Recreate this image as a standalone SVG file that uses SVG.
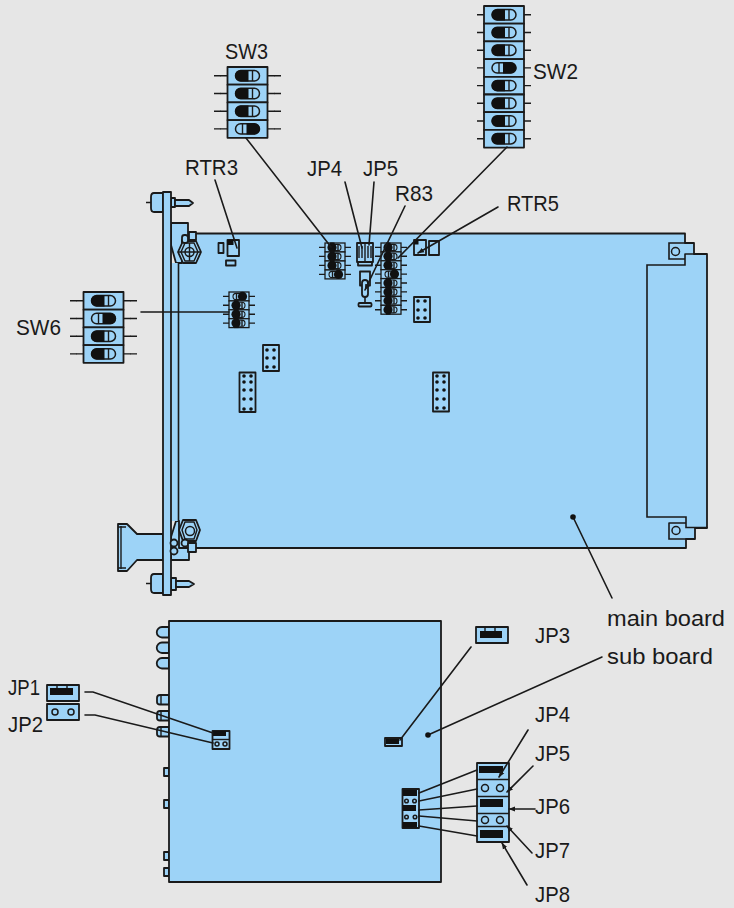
<svg xmlns="http://www.w3.org/2000/svg" width="734" height="908" viewBox="0 0 734 908">
<style>
.b{fill:#9dd3f7;stroke:#1a1a1a;stroke-width:1.8;stroke-linejoin:round}
.bt{fill:#9dd3f7;stroke:#1a1a1a;stroke-width:1.3}
.n{fill:none;stroke:#1a1a1a;stroke-width:1.6;stroke-linecap:round}
.t{fill:none;stroke:#1a1a1a;stroke-width:1.4}
.k{fill:#111;stroke:none}
.h{fill:#111}
.o{fill:none;stroke:#1a1a1a;stroke-width:1.5}
text{font-family:"Liberation Sans",Arial,sans-serif;font-size:22px;fill:#1a1a1a}
</style>
<defs>
<marker id="a" markerWidth="7" markerHeight="6" refX="6" refY="3" orient="auto" markerUnits="userSpaceOnUse"><path d="M0 0.500L6.500 3L0 5.500Z" fill="#1a1a1a"/></marker>
<g id="cL"><rect class="b" x="0" y="0" width="40" height="17.7"/><path class="t" d="M-7 8.800H0M40 8.800H47"/><rect x="8" y="3.600" width="24" height="10.400" rx="5.200" fill="#9dd3f7" stroke="#1a1a1a" stroke-width="1.500"/><path class="k" d="M13.200 3.200H21V14.400H13.200A5.600 5.600 0 0 1 13.200 3.200Z"/><path class="t" d="M25 3.600V14"/></g>
<g id="cR"><rect class="b" x="0" y="0" width="40" height="17.7"/><path class="t" d="M-7 8.800H0M40 8.800H47"/><rect x="8" y="3.600" width="24" height="10.400" rx="5.200" fill="#9dd3f7" stroke="#1a1a1a" stroke-width="1.500"/><path class="k" d="M19 3.200H26.800A5.600 5.600 0 0 1 26.800 14.400H19Z"/><path class="t" d="M15 3.600V14"/></g>
<g id="sL"><rect class="bt" x="0" y="0" width="20" height="8.900"/><path class="t" d="M-6 4.400H0M20 4.400H26"/><rect x="4" y="1.400" width="12" height="6.200" rx="3.100" fill="#9dd3f7" stroke="#1a1a1a" stroke-width="1.100"/><circle class="k" cx="7" cy="4.400" r="4.600"/><rect class="k" x="5" y="-0.500" width="4.500" height="9.900"/><path class="t" d="M13 1.400V7.600" stroke-width="1"/></g>
<g id="sR"><rect class="bt" x="0" y="0" width="20" height="8.900"/><path class="t" d="M-6 4.400H0M20 4.400H26"/><rect x="4" y="1.400" width="12" height="6.200" rx="3.100" fill="#9dd3f7" stroke="#1a1a1a" stroke-width="1.100"/><circle class="k" cx="13.500" cy="4.400" r="4.600"/><path class="t" d="M7.500 1.400V7.600" stroke-width="1"/></g>
<g id="led"><path class="b" d="M169 0H162A5 5 0 0 0 162 10.500H169Z"/></g>
<g id="conn"><path class="b" d="M169 0H160Q157 0 157 3V7Q157 9.500 160 9.500H169Z"/><path class="t" d="M161 0V9.500"/></g>
</defs>
<rect width="734" height="908" fill="#e6e6e6"/>

<g id="main-board">
<path class="b" d="M177 233.500H685V243H694V254H707V528H695V539H686V548H177Z"/>
<path class="n" d="M685 243H669V259H685M685 254V265H647V517H686V527.500H707M685 254H694M669 523H686M669 523V539H686"/>
<circle class="o" cx="675.500" cy="251.500" r="4"/>
<circle class="o" cx="676" cy="530.500" r="4"/>
</g>

<g id="front-panel">
<path class="b" d="M118 524H127L137 534H163V560H137L127 571H118Z"/>
<path class="t" d="M121 526V569M118 527H126M118 568H126"/>
<path class="b" d="M171 223H188V240H182V263H176L171 245Z"/>
<path class="b" d="M171 537L176 521H179V548H189V560H171Z"/>
<path class="b" d="M154 193H163V212H154Q151 212 151 208V197Q151 193 154 193Z"/>
<path class="b" d="M154 574H163V593H154Q151 593 151 589V578Q151 574 154 574Z"/>
<path class="t" d="M151 202.500H146M151 583.500H146"/>
<path class="b" d="M171 198H175V207H171Z"/>
<path class="b" d="M175 200H189L193 203L189 206H175Z"/>
<path class="b" d="M171 578H176V590H171Z"/>
<path class="b" d="M176 581H189L194 584L189 587H176Z"/>
<rect class="b" x="163" y="192" width="8" height="403"/>
<rect x="172" y="263" width="6" height="258" fill="#9dd3f7"/>
<path class="n" d="M178.500 263V521"/>
<path class="b" d="M183 241H196L201 252L196 263H183L178 252Z"/>
<path class="t" d="M185 243H194L198 252L194 261H185L181 252Z"/>
<circle class="o" cx="189.500" cy="252" r="4.500"/>
<path class="t" d="M189.500 243V261M178 252H201"/>
<rect class="b" x="189" y="232" width="7" height="8"/>
<rect class="b" x="182" y="235" width="6" height="8" rx="2.500"/>
<path class="b" d="M183 520H196L200 530L196 541H183L179 530Z"/>
<path class="t" d="M185 522H194L197 530L194 539H185L182 530Z"/>
<circle class="o" cx="190" cy="531" r="4.500"/>
<circle class="b" cx="174" cy="543" r="3.500"/>
<circle class="b" cx="174" cy="551" r="3.500"/>
<circle class="b" cx="185" cy="543" r="3.500"/>
<rect class="b" x="188" y="543" width="8" height="9"/>
</g>

<g id="parts">
<rect class="b" x="218.500" y="243" width="5" height="10"/>
<rect class="b" x="226" y="260.500" width="9.500" height="5"/>
<g id="rtr3-part"><rect class="b" x="227.500" y="240" width="11.500" height="16"/><rect class="k" x="227.500" y="240" width="6" height="5"/></g>
<g id="rtr5-part"><rect class="b" x="414" y="240" width="12" height="15"/><rect class="k" x="414" y="240" width="4.500" height="4.500"/><rect class="b" x="429" y="241" width="10" height="14"/></g>
<g id="block-a"><rect class="b" x="414" y="297" width="16" height="25"/><g class="h"><circle cx="418" cy="301" r="1.800"/><circle cx="425" cy="301" r="1.800"/><circle cx="418" cy="310" r="1.800"/><circle cx="425" cy="310" r="1.800"/><circle cx="418" cy="318" r="1.800"/><circle cx="425" cy="318" r="1.800"/></g></g>
<g id="block-b"><rect class="b" x="263" y="345" width="16" height="26"/><g class="h"><circle cx="267" cy="350" r="1.800"/><circle cx="274" cy="350" r="1.800"/><circle cx="267" cy="358" r="1.800"/><circle cx="274" cy="358" r="1.800"/><circle cx="267" cy="367" r="1.800"/><circle cx="274" cy="367" r="1.800"/></g></g>
<g id="block-c"><rect class="b" x="239.500" y="372.500" width="16" height="39.500"/><g class="h"><circle cx="244" cy="376" r="1.800"/><circle cx="251" cy="376" r="1.800"/><circle cx="244" cy="382" r="1.800"/><circle cx="251" cy="382" r="1.800"/><circle cx="244" cy="390" r="1.800"/><circle cx="251" cy="390" r="1.800"/><circle cx="244" cy="399" r="1.800"/><circle cx="251" cy="399" r="1.800"/><circle cx="244" cy="409" r="1.800"/><circle cx="251" cy="409" r="1.800"/></g></g>
<g id="block-d"><rect class="b" x="433" y="372.500" width="16" height="39"/><g class="h"><circle cx="437" cy="376" r="1.800"/><circle cx="444" cy="376" r="1.800"/><circle cx="437" cy="382" r="1.800"/><circle cx="444" cy="382" r="1.800"/><circle cx="437" cy="390" r="1.800"/><circle cx="444" cy="390" r="1.800"/><circle cx="437" cy="399" r="1.800"/><circle cx="444" cy="399" r="1.800"/><circle cx="437" cy="408" r="1.800"/><circle cx="444" cy="408" r="1.800"/></g></g>
<g id="jp4-jp5-part"><rect class="b" x="357" y="243" width="16" height="19"/><path class="t" d="M365 243V262M359 246V258M362 246V258M368 246V258M371 246V258"/><rect class="b" x="358" y="262" width="14" height="3.500"/></g>
<g id="r83-part"><rect class="b" x="360" y="271.500" width="10" height="14"/><rect class="b" x="362" y="280" width="6" height="17" rx="3"/><path class="n" d="M365 297V303"/><rect class="b" x="358.500" y="303" width="13" height="3.500" rx="1"/></g>
</g>

<g id="sw3-small"><use href="#sL" x="325" y="243"/><use href="#sL" x="325" y="252"/><use href="#sL" x="325" y="261"/><use href="#sR" x="325" y="270"/></g>
<g id="sw6-small"><use href="#sR" x="229" y="292"/><use href="#sL" x="229" y="300.900"/><use href="#sL" x="229" y="309.800"/><use href="#sL" x="229" y="318.700"/></g>
<g id="sw2-small"><use href="#sL" x="381" y="243"/><use href="#sL" x="381" y="251.900"/><use href="#sL" x="381" y="260.800"/><use href="#sR" x="381" y="269.700"/><use href="#sL" x="381" y="278.600"/><use href="#sL" x="381" y="287.500"/><use href="#sL" x="381" y="296.400"/><use href="#sL" x="381" y="305.300"/></g>

<g id="sw3"><use href="#cL" x="227.500" y="67"/><use href="#cL" x="227.500" y="84.700"/><use href="#cL" x="227.500" y="102.400"/><use href="#cR" x="227.500" y="120.100"/><path class="t" d="M214 75.800H221M214 93.500H221M214 111.200H221M214 128.900H221M274 75.800H281M274 93.500H281M274 111.200H281M274 128.900H281"/></g>
<g id="sw2"><use href="#cL" x="484" y="6"/><use href="#cL" x="484" y="23.700"/><use href="#cL" x="484" y="41.400"/><use href="#cR" x="484" y="59.100"/><use href="#cL" x="484" y="76.800"/><use href="#cL" x="484" y="94.500"/><use href="#cL" x="484" y="112.200"/><use href="#cL" x="484" y="129.900"/></g>
<g id="sw6"><use href="#cL" x="83.500" y="292"/><use href="#cR" x="83.500" y="309.700"/><use href="#cL" x="83.500" y="327.400"/><use href="#cL" x="83.500" y="345.100"/><path class="t" d="M70 300.800H77M70 318.500H77M70 336.200H77M70 353.900H77M130 300.800H137M130 318.500H137M130 336.200H137M130 353.900H137"/></g>

<g id="sub-board">
<use href="#led" y="627"/><use href="#led" y="642.500"/><use href="#led" y="658"/>
<use href="#conn" y="695"/><use href="#conn" y="711"/><use href="#conn" y="727"/>
<rect class="b" x="164" y="768" width="5" height="8"/><rect class="b" x="164" y="800" width="5" height="8"/><rect class="b" x="164" y="852" width="5" height="8"/><rect class="b" x="164" y="868" width="5" height="8"/>
<rect class="b" x="169" y="621" width="272" height="261"/>
</g>

<g id="jp3"><rect class="b" x="476" y="627" width="32" height="16"/><rect class="k" x="480" y="631" width="22" height="7"/><path class="t" d="M485 627V631M495 627V631"/></g>
<g id="jp3-small"><rect class="b" x="385" y="738" width="17" height="8"/><rect class="k" x="386" y="739" width="13" height="5"/></g>
<g id="jp1"><rect class="b" x="47" y="685" width="32" height="16"/><rect class="k" x="50" y="688" width="23" height="7"/><path class="t" d="M57 685V688M67 685V688"/></g>
<g id="jp2"><rect class="b" x="47" y="704" width="32" height="16"/><circle class="o" cx="55" cy="712" r="3"/><circle class="o" cx="71" cy="712" r="3"/></g>
<g id="jp1-jp2-small"><rect class="b" x="212.500" y="731" width="17" height="18"/><rect class="k" x="213" y="731" width="13" height="5"/><path class="t" d="M213 739.500H229"/><circle class="o" cx="217" cy="744" r="2"/><circle class="o" cx="225" cy="744" r="2"/></g>
<g id="jp4-8-small"><rect class="b" x="402.500" y="789" width="16.500" height="39"/><rect class="k" x="403" y="790" width="14" height="6"/><rect class="k" x="403" y="805" width="13" height="6"/><rect class="k" x="403" y="822" width="14" height="5.500"/><circle class="o" cx="406.500" cy="801" r="1.800"/><circle class="o" cx="414.500" cy="801" r="1.800"/><circle class="o" cx="406.500" cy="817" r="1.800"/><circle class="o" cx="415" cy="817" r="1.800"/></g>
<g id="jp4-8">
<rect class="b" x="477" y="763" width="32" height="79"/>
<path class="t" d="M477 779.500H509M477 796.500H509M477 813.500H509M477 826.500H509"/>
<rect class="k" x="479" y="766" width="24" height="7"/><rect class="k" x="480" y="799" width="23" height="8"/><rect class="k" x="480" y="830" width="23" height="8"/>
<circle class="o" cx="485" cy="788" r="3.500"/><circle class="o" cx="500" cy="788" r="3.500"/><circle class="o" cx="485" cy="820" r="3.500"/><circle class="o" cx="500" cy="820" r="3.500"/>
</g>

<g id="connectors">
<path class="n" d="M246 138L331 247M507 147L398 258M215 180L237 248M345 182L362 248M374 182L369 245M141 312H229M471 647L400 740M573 517L612 598M428 735L602 657"/>
<path class="n" marker-end="url(#a)" d="M498 207L418 253"/>
<path class="n" marker-end="url(#a)" d="M405 206L365 290"/>
<path class="n" d="M85 692H93L213 733M85 715H95L213 743"/>
<path class="n" d="M419 793L477 770M419 801L477 789M419 810L477 806M419 816L477 821M419 826L477 836"/>
<path class="n" marker-end="url(#a)" d="M528 730L499 777"/>
<path class="n" marker-end="url(#a)" d="M533 766L507 792"/>
<path class="n" marker-end="url(#a)" d="M535 809H509"/>
<path class="n" marker-end="url(#a)" d="M532 853L507 826"/>
<path class="n" marker-end="url(#a)" d="M527 885L502 843"/>
<circle class="h" cx="573" cy="517" r="2.800"/><circle class="h" cx="428" cy="735" r="2.800"/>
</g>

<g id="labels">
<text x="225" y="59" textLength="43" lengthAdjust="spacingAndGlyphs">SW3</text>
<text x="533" y="79" textLength="45" lengthAdjust="spacingAndGlyphs">SW2</text>
<text x="185" y="175" textLength="53" lengthAdjust="spacingAndGlyphs">RTR3</text>
<text x="307" y="176" textLength="35" lengthAdjust="spacingAndGlyphs">JP4</text>
<text x="363" y="176" textLength="35" lengthAdjust="spacingAndGlyphs">JP5</text>
<text x="395" y="201" textLength="38" lengthAdjust="spacingAndGlyphs">R83</text>
<text x="507" y="211" textLength="52" lengthAdjust="spacingAndGlyphs">RTR5</text>
<text x="16" y="335" textLength="45" lengthAdjust="spacingAndGlyphs">SW6</text>
<text x="607" y="626" textLength="118" lengthAdjust="spacingAndGlyphs">main board</text>
<text x="607" y="664" textLength="106" lengthAdjust="spacingAndGlyphs">sub board</text>
<text x="535" y="643" textLength="35" lengthAdjust="spacingAndGlyphs">JP3</text>
<text x="8" y="695" textLength="32" lengthAdjust="spacingAndGlyphs">JP1</text>
<text x="8" y="732" textLength="35" lengthAdjust="spacingAndGlyphs">JP2</text>
<text x="535" y="722" textLength="35" lengthAdjust="spacingAndGlyphs">JP4</text>
<text x="535" y="761" textLength="35" lengthAdjust="spacingAndGlyphs">JP5</text>
<text x="535" y="814" textLength="35" lengthAdjust="spacingAndGlyphs">JP6</text>
<text x="535" y="858" textLength="35" lengthAdjust="spacingAndGlyphs">JP7</text>
<text x="535" y="902" textLength="35" lengthAdjust="spacingAndGlyphs">JP8</text>
</g>
</svg>
